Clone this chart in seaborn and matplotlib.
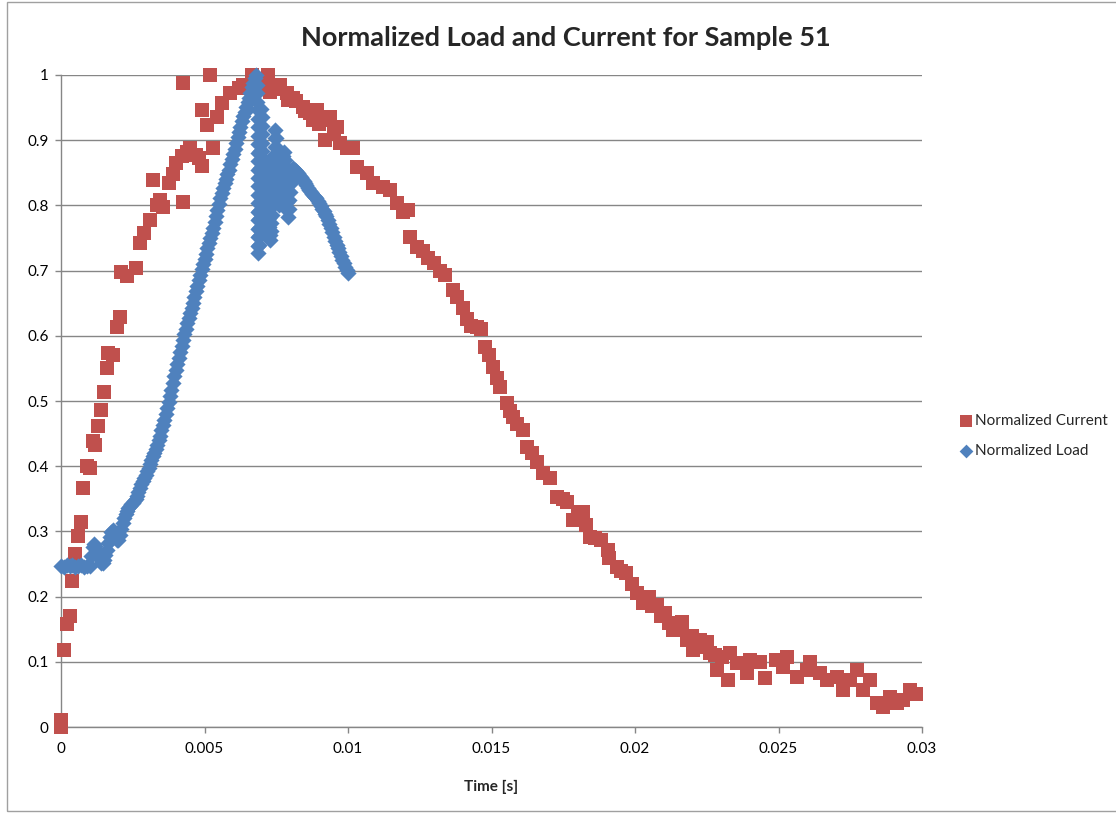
import numpy as np
import pandas as pd
import seaborn as sns
import matplotlib
matplotlib.use("Agg")
import matplotlib.pyplot as plt
from matplotlib.patches import Rectangle

# ---------------- data ----------------
title = "Normalized Load and Current for Sample 51"
x_label = "Time [s]"
x_ticks = [0, 0.005, 0.01, 0.015, 0.02, 0.025, 0.03]
x_tick_labels = ["0", "0.005", "0.01", "0.015", "0.02", "0.025", "0.03"]
y_ticks = [0, 0.1, 0.2, 0.3, 0.4, 0.5, 0.6, 0.7, 0.8, 0.9, 1.0]
y_tick_labels = ["0", "0.1", "0.2", "0.3", "0.4", "0.5", "0.6", "0.7", "0.8", "0.9", "1"]

current_t = [
    0.0, 0.0, 0.0001, 0.0002, 0.0003, 0.0004, 0.0005, 0.0006, 0.0007, 0.00075,
    0.0009, 0.001, 0.0011, 0.0012, 0.0013, 0.0014, 0.0015, 0.0016, 0.00165, 0.0018,
    0.00195, 0.00205, 0.0021, 0.0023, 0.0026, 0.00275, 0.0029, 0.0031, 0.0032, 0.00335,
    0.00345, 0.00355, 0.00375, 0.0039, 0.004, 0.0042, 0.00425, 0.00425, 0.0044, 0.0045,
    0.0047, 0.0048, 0.0049, 0.0049, 0.0051, 0.0052, 0.0053, 0.00543, 0.0056, 0.0059,
    0.0062, 0.00634, 0.00665, 0.0070, 0.0072, 0.00728, 0.0075, 0.00763, 0.00787, 0.0079,
    0.00808, 0.0082, 0.00843, 0.0085, 0.00868, 0.00878, 0.00892, 0.009, 0.00913, 0.0092,
    0.00937, 0.0095, 0.00962, 0.00972, 0.00997, 0.01017, 0.01031, 0.01066, 0.01087, 0.01122,
    0.01146, 0.01171, 0.01192, 0.0121, 0.01216, 0.0124, 0.0126, 0.0128, 0.0130, 0.0132,
    0.01338, 0.01366, 0.0138, 0.0140, 0.01415, 0.0143, 0.0145, 0.01465, 0.01477, 0.0149,
    0.01505, 0.0152, 0.0153, 0.01554, 0.01565, 0.01575, 0.0159, 0.0161, 0.01624, 0.0164,
    0.01659, 0.0168, 0.01704, 0.01728, 0.0175, 0.01763, 0.01784, 0.0180, 0.0182, 0.0183,
    0.01843, 0.0186, 0.0188, 0.01906, 0.0191, 0.01937, 0.0195, 0.0197, 0.0199, 0.02007,
    0.02028, 0.0205, 0.0206, 0.02077, 0.0209, 0.02105, 0.0212, 0.02133, 0.0215, 0.02164,
    0.02181, 0.0220, 0.02202, 0.02227, 0.02237, 0.0225, 0.02261, 0.0228, 0.02286, 0.02303,
    0.02324, 0.0233, 0.02355, 0.0239, 0.0240, 0.02436, 0.02453, 0.0249, 0.02516, 0.0253,
    0.02565, 0.0260, 0.0261, 0.02645, 0.02669, 0.02704, 0.02725, 0.0275, 0.02774, 0.02795,
    0.0282, 0.02843, 0.02864, 0.02889, 0.02913, 0.02934, 0.02958, 0.0298,
]
current_y = [
    0.000, 0.010, 0.118, 0.158, 0.170, 0.224, 0.265, 0.293, 0.315, 0.367,
    0.400, 0.398, 0.438, 0.432, 0.462, 0.486, 0.514, 0.550, 0.574, 0.571,
    0.613, 0.629, 0.698, 0.692, 0.704, 0.742, 0.758, 0.778, 0.839, 0.800,
    0.808, 0.798, 0.835, 0.848, 0.865, 0.875, 0.988, 0.805, 0.882, 0.888,
    0.878, 0.872, 0.860, 0.946, 0.923, 1.000, 0.888, 0.935, 0.957, 0.972,
    0.980, 0.985, 1.000, 0.985, 1.000, 0.974, 0.978, 0.985, 0.972, 0.962,
    0.965, 0.960, 0.951, 0.945, 0.941, 0.931, 0.946, 0.925, 0.931, 0.900,
    0.935, 0.910, 0.920, 0.896, 0.888, 0.888, 0.859, 0.850, 0.834, 0.828,
    0.824, 0.804, 0.790, 0.793, 0.752, 0.736, 0.730, 0.720, 0.712, 0.700,
    0.693, 0.670, 0.660, 0.643, 0.625, 0.615, 0.613, 0.610, 0.583, 0.570,
    0.552, 0.535, 0.521, 0.497, 0.485, 0.475, 0.465, 0.455, 0.429, 0.420,
    0.406, 0.390, 0.382, 0.353, 0.350, 0.345, 0.317, 0.330, 0.330, 0.310,
    0.291, 0.290, 0.287, 0.271, 0.259, 0.245, 0.240, 0.236, 0.220, 0.205,
    0.190, 0.200, 0.185, 0.187, 0.170, 0.175, 0.160, 0.149, 0.155, 0.161,
    0.133, 0.140, 0.118, 0.133, 0.123, 0.130, 0.113, 0.110, 0.087, 0.107,
    0.072, 0.113, 0.098, 0.083, 0.103, 0.100, 0.075, 0.103, 0.092, 0.107,
    0.077, 0.087, 0.100, 0.083, 0.072, 0.077, 0.057, 0.072, 0.087, 0.057,
    0.072, 0.037, 0.031, 0.046, 0.037, 0.041, 0.057, 0.050,
]

load_t = [
    0.0, 0.0001, 0.0002, 0.0003, 0.0004, 0.0005, 0.0006, 0.0007, 0.0008, 0.0009, 0.0010,
    0.00105, 0.0011, 0.00115, 0.0012, 0.00125, 0.0013, 0.00135, 0.0014, 0.00145, 0.0015,
    0.00155, 0.0016, 0.00165, 0.0017, 0.00175, 0.0018, 0.00185, 0.0019, 0.00195, 0.0020,
    0.00205, 0.0021, 0.00215, 0.0022, 0.00225, 0.0023, 0.00235, 0.0024, 0.00245, 0.0025,
    0.00255, 0.0026, 0.00265, 0.0027, 0.00275, 0.0028, 0.00285, 0.0029, 0.00295, 0.0030,
    0.00305, 0.0031, 0.00315, 0.0032, 0.00325, 0.0033, 0.00335, 0.0034, 0.00345, 0.0035,
    0.00355, 0.0036, 0.00365, 0.0037, 0.00375, 0.0038, 0.00385, 0.0039, 0.00395, 0.0040,
    0.00405, 0.0041, 0.00415, 0.0042, 0.00425, 0.0043, 0.00435, 0.0044, 0.00445, 0.0045,
    0.00455, 0.0046, 0.00465, 0.0047, 0.00475, 0.0048, 0.00485, 0.0049, 0.00495, 0.0050,
    0.00505, 0.0051, 0.00515, 0.0052, 0.00525, 0.0053, 0.00535, 0.0054, 0.00545, 0.0055,
    0.00555, 0.0056, 0.00565, 0.0057, 0.00575, 0.0058, 0.00585, 0.0059, 0.00595, 0.0060,
    0.00605, 0.0061, 0.00615, 0.0062, 0.00625, 0.0063, 0.00635, 0.0064, 0.00645, 0.0065,
    0.00655, 0.0066, 0.00665, 0.0067, 0.00675, 0.0068,
    # oscillation after the peak
    0.00683, 0.00684, 0.00684, 0.00685, 0.00685, 0.00685, 0.00685, 0.00686, 0.00686, 0.00686,
    0.00686, 0.00686, 0.00686, 0.00686, 0.00686, 0.00686, 0.00686, 0.00686, 0.00686, 0.00686,
    0.00686,
    0.00689, 0.00690, 0.00690, 0.00691, 0.00691, 0.00692, 0.00692, 0.00693, 0.00693, 0.00694,
    0.00694, 0.00695, 0.00695, 0.00696, 0.00696, 0.00697, 0.00697,
    0.00699, 0.00699, 0.00700, 0.00700, 0.00700, 0.00701, 0.00701, 0.00701, 0.00702, 0.00702,
    0.00702, 0.00703, 0.00703, 0.00703,
    0.00705, 0.00705, 0.00706, 0.00706, 0.00707, 0.00707, 0.00708, 0.00708,
    0.00711, 0.00713, 0.00715, 0.00717, 0.00719, 0.00721, 0.00723, 0.00725, 0.00727, 0.00728,
    0.00731, 0.00733, 0.00734, 0.00736, 0.00737, 0.00739, 0.00740, 0.00741, 0.00742, 0.00743,
    0.00744, 0.00745, 0.00746,
    0.00749, 0.00750, 0.00751, 0.00752, 0.00753, 0.00754, 0.00756, 0.00758, 0.00760,
    0.00763, 0.00766, 0.00768, 0.00770, 0.00772, 0.00774, 0.00776,
    0.00779, 0.00781, 0.00783, 0.00785, 0.00787, 0.00788, 0.00789, 0.00790,
    0.00793, 0.00795, 0.00797, 0.00800, 0.00803, 0.00806,
    # decay
    0.0081, 0.00815, 0.0082, 0.00825, 0.0083, 0.00835, 0.0084, 0.00845, 0.0085, 0.00855,
    0.0086, 0.00865, 0.0087, 0.00875, 0.0088, 0.00885, 0.0089, 0.00895, 0.0090, 0.00905,
    0.0091, 0.00915, 0.0092, 0.00925, 0.0093, 0.00935, 0.0094, 0.00945, 0.0095, 0.00955,
    0.0096, 0.00965, 0.0097, 0.00975, 0.0098, 0.00985, 0.0099, 0.00995, 0.0100,
]
load_y = [
    0.247, 0.246, 0.248, 0.247, 0.249, 0.246, 0.247, 0.248, 0.246, 0.247, 0.247,
    0.262, 0.276, 0.281, 0.277, 0.271, 0.264, 0.257, 0.252, 0.251, 0.256,
    0.264, 0.272, 0.282, 0.292, 0.299, 0.302, 0.297, 0.291, 0.287, 0.287,
    0.294, 0.304, 0.313, 0.321, 0.327, 0.332, 0.336, 0.339, 0.342, 0.344,
    0.346, 0.349, 0.354, 0.360, 0.366, 0.372, 0.377, 0.382, 0.387, 0.392,
    0.398, 0.403, 0.409, 0.415, 0.421, 0.427, 0.433, 0.440, 0.447, 0.455,
    0.463, 0.471, 0.480, 0.489, 0.498, 0.507, 0.517, 0.528, 0.538, 0.548,
    0.557, 0.566, 0.575, 0.584, 0.594, 0.603, 0.611, 0.619, 0.627, 0.635,
    0.643, 0.651, 0.659, 0.668, 0.677, 0.686, 0.694, 0.702, 0.710, 0.718,
    0.726, 0.734, 0.742, 0.750, 0.758, 0.766, 0.775, 0.784, 0.793, 0.802,
    0.811, 0.819, 0.827, 0.834, 0.841, 0.848, 0.855, 0.863, 0.871, 0.879,
    0.887, 0.896, 0.905, 0.913, 0.921, 0.929, 0.937, 0.944, 0.951, 0.958,
    0.965, 0.973, 0.981, 0.988, 0.995, 1.000,
    0.985, 0.972, 0.959, 0.946, 0.933, 0.920, 0.907, 0.894, 0.881, 0.868,
    0.855, 0.842, 0.829, 0.816, 0.803, 0.790, 0.777, 0.764, 0.751, 0.738,
    0.727,
    0.740, 0.753, 0.766, 0.779, 0.792, 0.805, 0.818, 0.831, 0.844, 0.857,
    0.870, 0.883, 0.896, 0.909, 0.922, 0.935, 0.948,
    0.935, 0.922, 0.909, 0.896, 0.883, 0.870, 0.857, 0.844, 0.831, 0.818,
    0.805, 0.792, 0.779, 0.766,
    0.779, 0.792, 0.805, 0.818, 0.831, 0.844, 0.857, 0.870,
    0.858, 0.845, 0.832, 0.819, 0.806, 0.793, 0.780, 0.767, 0.755, 0.747,
    0.760, 0.773, 0.786, 0.799, 0.812, 0.825, 0.838, 0.851, 0.864, 0.877,
    0.890, 0.903, 0.916,
    0.903, 0.890, 0.877, 0.864, 0.851, 0.838, 0.825, 0.812, 0.800,
    0.812, 0.825, 0.838, 0.851, 0.864, 0.876, 0.882,
    0.870, 0.857, 0.844, 0.831, 0.818, 0.805, 0.793, 0.782,
    0.795, 0.808, 0.821, 0.834, 0.846, 0.855,
    0.858, 0.855, 0.852, 0.849, 0.846, 0.843, 0.840, 0.837, 0.834, 0.831,
    0.827, 0.823, 0.820, 0.817, 0.815, 0.813, 0.811, 0.807, 0.803, 0.799,
    0.795, 0.791, 0.787, 0.783, 0.778, 0.772, 0.766, 0.759, 0.752, 0.746,
    0.740, 0.734, 0.728, 0.722, 0.716, 0.711, 0.706, 0.701, 0.697,
]

series_names = ["Normalized Current", "Normalized Load"]

# ---------------- style ----------------
sns.set_theme(style="white")
plt.rcParams["font.family"] = ["Lato", "DejaVu Sans"]

RED = "#C0504D"
BLUE = "#4F81BD"
GRAY = "#868686"

fig = plt.figure(figsize=(11.16, 8.13), dpi=100)
ax = fig.add_axes([61 / 1116, 1 - 727 / 813, (922 - 61) / 1116, (727 - 75) / 813])

cur_df = pd.DataFrame({"t": current_t, "v": current_y})
load_df = pd.DataFrame({"t": load_t, "v": load_y})

sns.scatterplot(data=cur_df, x="t", y="v", ax=ax, marker="s", s=88, color=RED,
                linewidth=0, label=series_names[0], clip_on=False, zorder=3)
sns.scatterplot(data=load_df, x="t", y="v", ax=ax, marker="D", s=68, color=BLUE,
                linewidth=0, label=series_names[1], clip_on=False, zorder=4)

ax.set_xlim(0, 0.03)
ax.set_ylim(0, 1)
ax.set_xticks(x_ticks)
ax.set_xticklabels(x_tick_labels)
ax.set_yticks(y_ticks)
ax.set_yticklabels(y_tick_labels)
ax.set_xlabel(x_label, fontsize=11, fontweight="bold", labelpad=17)
ax.set_ylabel("")

ax.grid(axis="y", color=GRAY, linewidth=1.0)
ax.grid(axis="x", visible=False)
ax.set_axisbelow(True)
for side in ["top", "right"]:
    ax.spines[side].set_visible(False)
for side in ["left", "bottom"]:
    ax.spines[side].set_color(GRAY)
    ax.spines[side].set_linewidth(1.0)
ax.tick_params(axis="x", direction="out", length=4, width=1, color=GRAY,
               labelsize=11, pad=7, labelcolor="black", bottom=True)
ax.tick_params(axis="y", direction="out", length=4, width=1, color=GRAY,
               labelsize=11, pad=5, labelcolor="black", left=True)

fig.suptitle(title, x=566 / 1116, y=1 - 38 / 813, va="center",
             fontsize=19.5, fontweight="bold")

leg = ax.legend(loc="center left", bbox_to_anchor=(961 / 1116, 1 - 436 / 813),
                bbox_transform=fig.transFigure, frameon=False, fontsize=11,
                handlelength=0.6, handletextpad=0.3, labelspacing=1.1,
                borderpad=0, borderaxespad=0, markerscale=0.85)

# outer chart-area border
fig.patches.append(Rectangle((7 / 1116, 2 / 813), 1.2, 1 - 4 / 813,
                             transform=fig.transFigure, fill=False,
                             edgecolor="#A0A0A0", linewidth=1.0))

fig.savefig("out.png", dpi=100)
